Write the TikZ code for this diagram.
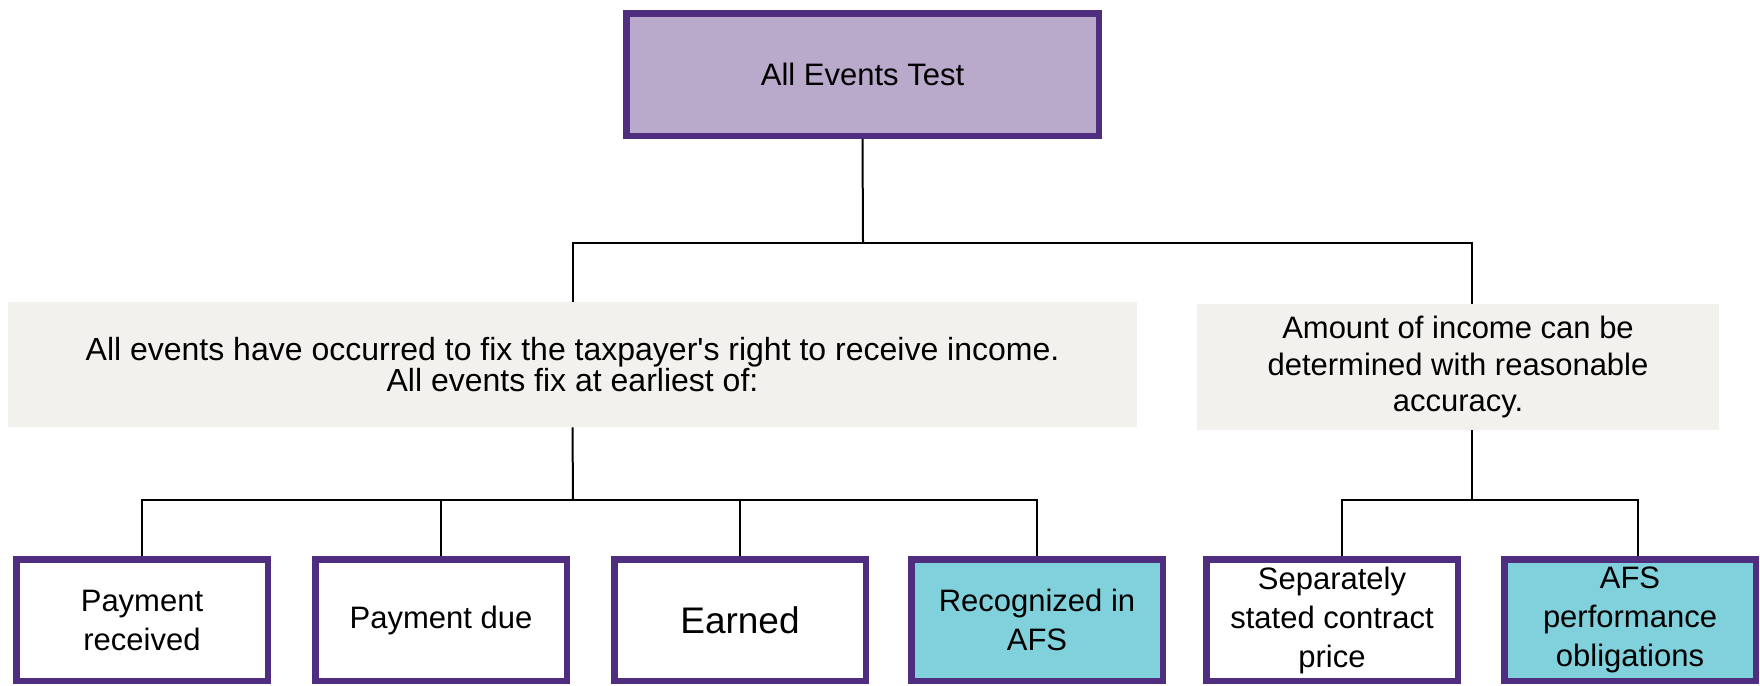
\documentclass[tikz,border=0pt]{standalone}
\usepackage{fontspec}
\setmainfont{Liberation Sans}
\definecolor{aepurple}{RGB}{79,45,127}
\definecolor{aelilac}{RGB}{185,169,203}
\definecolor{aeteal}{RGB}{128,209,219}
\definecolor{aegray}{RGB}{242,241,238}
\tikzset{
  testbox/.style={draw=aepurple, line width=3.25pt, inner sep=0pt, align=center,
    minimum width=125.75pt, minimum height=60.75pt, fill=white,
    font=\fontsize{15.5}{19.5}\selectfont},
  afsbox/.style={testbox, fill=aeteal},
  prongbox/.style={fill=aegray, inner sep=0pt, align=center},
  conn/.style={line width=1pt, black}
}
\begin{document}
\begin{tikzpicture}[x=0.5pt,y=-0.5pt]
\useasboundingbox (0,0) rectangle (1760,685);

%Shape: Rectangle [top]
\node[testbox, fill=aelilac, minimum width=236.25pt, minimum height=61.25pt] (top) at (862.5,74.5) {All Events Test};

%Shape: Rectangle [prongs]
\node[prongbox, minimum width=564.5pt, minimum height=62.5pt, font=\fontsize{16}{15.7}\selectfont] (fix) at (572.5,364.5)
  {All events have occurred to fix the taxpayer\textquotesingle s right to receive income.\\All events fix at earliest of:};
\node[prongbox, minimum width=261pt, minimum height=63pt, font=\fontsize{15.5}{18.3}\selectfont] (amount) at (1458,367)
  {Amount of income can be\\determined with reasonable\\accuracy.};

%Shape: Rectangle [fixing events]
\node[testbox] (paid) at (142,620) {Payment\\received};
\node[testbox] (due) at (441,620) {Payment due};
\node[testbox, font=\fontsize{18.5}{22}\selectfont] (earned) at (740,620) {Earned};
\node[afsbox] (afs) at (1037,620) {Recognized in\\AFS};

%Shape: Rectangle [amount]
\node[testbox] (price) at (1332,620) {Separately\\stated contract\\price};
\node[afsbox] (oblig) at (1630,620) {AFS\\performance\\obligations};

%Straight Lines
\coordinate (jtop) at (863,243);
\coordinate (jfix) at (573,500);
\coordinate (jamt) at (1472,500);
\draw[conn] (top.south) -- (jtop);
\draw[conn] (fix.north) |- (jtop) -| ([xshift=7pt]amount.north);
\draw[conn] (fix.south) -- (jfix);
\draw[conn] (paid.north) |- (jfix) -| (afs.north);
\draw[conn] (due.north) -- (due.north |- jfix);
\draw[conn] (earned.north) -- (earned.north |- jfix);
\draw[conn] ([xshift=7pt]amount.south) -- (jamt);
\draw[conn] ([xshift=5pt]price.north) |- (jamt) -| ([xshift=4pt]oblig.north);
\end{tikzpicture}
\end{document}
